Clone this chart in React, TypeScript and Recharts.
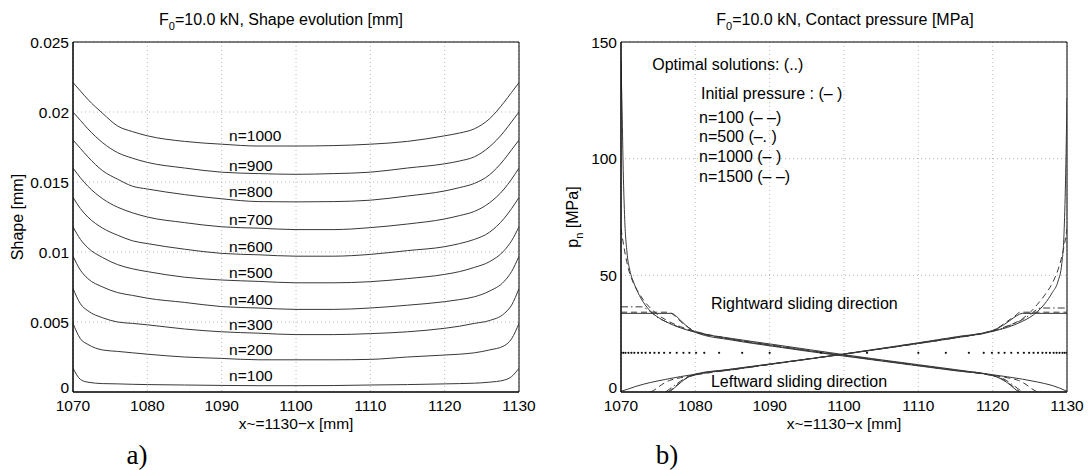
import React from "react";
import { CartesianGrid, Line, LineChart, ReferenceArea, XAxis, YAxis } from "recharts";

const FONT = "'Liberation Sans', Arial, Helvetica, sans-serif";
const SERIF = "'Liberation Serif', 'Times New Roman', serif";
const CURVE = "#383838";
const GRID = "#b8b8b8";

// axes
const xTicks = [1070, 1080, 1090, 1100, 1110, 1120, 1130];
const shapeTicks = [0, 0.005, 0.01, 0.015, 0.02, 0.025];
const pressureTicks = [0, 50, 100, 150];

// a) shape evolution, one curve per n
const shapeX = [1070, 1071, 1072, 1074, 1076, 1078, 1080, 1085, 1090, 1095, 1100, 1105, 1110, 1115, 1120, 1122, 1124, 1126, 1128, 1129, 1130];
const shape100 = [0.0017, 0.0009, 0.0007, 0.0006, 0.00058, 0.00055, 0.00053, 0.0005, 0.00047, 0.00045, 0.00045, 0.00046, 0.0005, 0.00053, 0.00058, 0.0006, 0.00063, 0.0007, 0.00085, 0.0011, 0.0017];
const shape200 = [0.0049, 0.0038, 0.0034, 0.003, 0.0029, 0.0028, 0.0027, 0.0025, 0.0024, 0.0023, 0.0023, 0.0023, 0.00233, 0.0025, 0.00264, 0.0027, 0.0028, 0.003, 0.0033, 0.0038, 0.0049];
const shape300 = [0.0074, 0.0063, 0.0058, 0.0053, 0.005, 0.0049, 0.0048, 0.0045, 0.0043, 0.0042, 0.0041, 0.0041, 0.00417, 0.0043, 0.00455, 0.0047, 0.0049, 0.0051, 0.0056, 0.0062, 0.0074];
const shape400 = [0.0097, 0.0087, 0.0081, 0.0075, 0.0071, 0.0069, 0.0067, 0.0064, 0.0061, 0.006, 0.0059, 0.0059, 0.006, 0.0062, 0.00645, 0.0066, 0.0068, 0.0072, 0.0079, 0.0086, 0.0097];
const shape500 = [0.0118, 0.0109, 0.0103, 0.0096, 0.0091, 0.0088, 0.0086, 0.0082, 0.008, 0.0079, 0.0078, 0.0078, 0.00788, 0.0081, 0.0084, 0.0086, 0.0089, 0.0093, 0.0101, 0.0108, 0.0118];
const shape600 = [0.0139, 0.0131, 0.0125, 0.0117, 0.0112, 0.0108, 0.0106, 0.0102, 0.0099, 0.0098, 0.0097, 0.0097, 0.00983, 0.0101, 0.01038, 0.0106, 0.0109, 0.0114, 0.0124, 0.0131, 0.0139];
const shape700 = [0.016, 0.0153, 0.0147, 0.0138, 0.0132, 0.0128, 0.0125, 0.0121, 0.0118, 0.0117, 0.0116, 0.0116, 0.01174, 0.012, 0.01236, 0.0126, 0.0129, 0.0135, 0.0145, 0.0152, 0.016];
const shape800 = [0.018, 0.0174, 0.0168, 0.0158, 0.0152, 0.0147, 0.0145, 0.0141, 0.0138, 0.0136, 0.01358, 0.0136, 0.0137, 0.014, 0.01436, 0.0146, 0.0149, 0.0155, 0.0166, 0.0173, 0.018];
const shape900 = [0.02, 0.0194, 0.0188, 0.0178, 0.0171, 0.0167, 0.0164, 0.016, 0.0157, 0.0156, 0.01555, 0.0156, 0.0157, 0.016, 0.0163, 0.0165, 0.0168, 0.0175, 0.0186, 0.0193, 0.02];
const shape1000 = [0.0221, 0.0215, 0.0209, 0.0199, 0.019, 0.0186, 0.0183, 0.0179, 0.0177, 0.01757, 0.01757, 0.0176, 0.0177, 0.0179, 0.0183, 0.0185, 0.0188, 0.0195, 0.0207, 0.0214, 0.0221];

const shapeNames = ["n=100", "n=200", "n=300", "n=400", "n=500", "n=600", "n=700", "n=800", "n=900", "n=1000"];
const shapeCurves = [shape100, shape200, shape300, shape400, shape500, shape600, shape700, shape800, shape900, shape1000];
const shapeLabelLevels = [0.0012, 0.003, 0.0048, 0.0066, 0.0085, 0.0104, 0.0123, 0.0143, 0.0162, 0.0183];

const shapeRows = shapeX.map((x, i) => {
  const row: Record<string, number> = { x };
  shapeCurves.forEach((c, k) => (row["s" + k] = c[i]));
  return row;
});

// b) contact pressure, rightward (r*) and leftward (l*) sliding
const rInitX = [1070, 1070.15, 1070.3, 1070.5, 1070.8, 1071.2, 1071.7, 1072.3, 1073, 1074, 1075, 1076, 1078, 1080, 1085, 1090, 1095, 1100, 1105, 1110, 1115, 1120, 1122, 1124, 1126, 1128, 1129, 1130];
const rInitP = [142, 120, 95, 74, 60, 52, 47, 42.5, 38.5, 34.5, 32, 30.2, 27.5, 25.6, 22.9, 20.6, 18.3, 16, 13.8, 11.7, 9.6, 7.4, 6.5, 5.5, 4.3, 2.8, 1.7, 0.3];
const lInitX = [1070, 1071, 1072, 1074, 1076, 1078, 1080, 1085, 1090, 1095, 1100, 1105, 1110, 1115, 1120, 1122, 1124, 1125, 1126, 1127, 1128, 1128.8, 1129.3, 1129.6, 1129.8, 1130];
const lInitP = [0.3, 1.3, 2.4, 4.1, 5.4, 6.6, 7.6, 9.9, 12, 14.1, 16.2, 18.5, 20.8, 23.2, 26, 27.7, 30.3, 32, 34.4, 37.8, 42.5, 47.5, 55, 68, 90, 126];

const r100X = [1070, 1070.4, 1070.9, 1071.5, 1072.2, 1073, 1074, 1075, 1076, 1078, 1080, 1085, 1090, 1095, 1100, 1105, 1110, 1115, 1120, 1122, 1123.5, 1124.5, 1125.3, 1126];
const r100P = [70, 62, 54, 48, 43.5, 39.5, 35.8, 33, 31, 28, 26, 22.6, 20.1, 17.8, 15.6, 13.5, 11.4, 9.3, 7.1, 6.1, 4.9, 3.2, 1.3, 0];
const l100X = [1074, 1074.7, 1075.5, 1076.5, 1078, 1080, 1085, 1090, 1095, 1100, 1105, 1110, 1115, 1120, 1122, 1124, 1125, 1126, 1127, 1128, 1128.8, 1129.3, 1129.7, 1130];
const l100P = [0, 1.3, 3.2, 4.9, 6.1, 7.3, 9.6, 11.9, 14.1, 16.3, 18.5, 20.8, 23.3, 26.3, 28.3, 31.4, 34, 37.5, 41.5, 46.5, 52.5, 58, 64, 70];

const r500X = [1070, 1072.8, 1073.5, 1074.3, 1075, 1076, 1078, 1080, 1085, 1090, 1095, 1100, 1105, 1110, 1115, 1120, 1121.5, 1122.5, 1123.5, 1124];
const r500P = [36.5, 36.5, 35.5, 33.5, 31.8, 30.2, 27.6, 25.8, 22.6, 20.2, 17.9, 15.7, 13.5, 11.4, 9.3, 7.2, 5.6, 3.5, 1.2, 0];
const l500X = [1076, 1076.5, 1077.5, 1078.5, 1080, 1085, 1090, 1095, 1100, 1105, 1110, 1115, 1120, 1122, 1124, 1125, 1125.7, 1126.5, 1130];
const l500P = [0, 1.2, 3.5, 5.6, 7.3, 9.5, 11.8, 14.1, 16.3, 18.5, 20.8, 23.2, 26, 28.2, 31, 33, 34.8, 36, 36];

const r1000X = [1070, 1076.8, 1077.5, 1078.3, 1079.2, 1080, 1085, 1090, 1095, 1100, 1105, 1110, 1115, 1120, 1121, 1122, 1122.8, 1123.5];
const r1000P = [33.7, 33.7, 32.3, 29.8, 27.3, 25.6, 22.2, 19.8, 17.5, 15.4, 13.3, 11.2, 9.1, 7, 5.8, 3.9, 1.8, 0];
const l1000X = [1076.5, 1077.2, 1078, 1079, 1080, 1085, 1090, 1095, 1100, 1105, 1110, 1115, 1120, 1121.3, 1122.3, 1123.2, 1124, 1130];
const l1000P = [0, 1.8, 4, 6.4, 7.7, 9.8, 11.9, 14, 16.3, 18.7, 21.1, 23.6, 26.4, 28.4, 30.6, 32.6, 33.7, 33.7];

const r1500X = [1070, 1076.4, 1077.2, 1078.2, 1079.2, 1080, 1085, 1090, 1095, 1100, 1105, 1110, 1115, 1120, 1121, 1122, 1122.9, 1123.7];
const r1500P = [34.2, 34.2, 32.7, 29.7, 27.4, 26, 22.5, 20.1, 17.8, 15.6, 13.5, 11.4, 9.3, 7.1, 6, 4.1, 1.9, 0];
const l1500X = [1076.3, 1077.1, 1078, 1079, 1080, 1085, 1090, 1095, 1100, 1105, 1110, 1115, 1120, 1121.1, 1122.2, 1123, 1123.7, 1130];
const l1500P = [0, 1.9, 4.1, 6.3, 7.5, 9.6, 11.8, 14, 16.2, 18.6, 21, 23.5, 26.2, 28.3, 30.8, 32.6, 34.2, 34.2];

// optimal solution nodes (dotted)
const optimalX = [1070, 1070.3, 1070.6, 1071, 1071.4, 1071.8, 1072.3, 1072.8, 1073.3, 1073.9, 1074.5, 1075.1, 1075.8, 1076.6, 1077.5, 1078.4, 1079.2, 1080.1, 1081.2, 1083.2, 1086.3, 1090, 1096.9, 1103.1, 1110, 1113.7, 1116.8, 1118.8, 1119.9, 1120.8, 1121.6, 1122.5, 1123.4, 1124.2, 1124.9, 1125.5, 1126.1, 1126.7, 1127.2, 1127.7, 1128.2, 1128.6, 1129, 1129.4, 1129.7, 1130];
const optimalP = 16.8;

const legendLines = ["Initial pressure : (– )", "n=100 (– –)", "n=500 (–. )", "n=1000 (– )", "n=1500 (– –)"];

const pts = (xs: number[], ps: number[]) => xs.map((x, i) => ({ x, p: ps[i] }));

const DASH = "6 4";
const DASHDOT = "7 3 1.5 3";
const pressureSeries = [
  { id: "rInit", data: pts(rInitX, rInitP), dash: undefined },
  { id: "lInit", data: pts(lInitX, lInitP), dash: undefined },
  { id: "r100", data: pts(r100X, r100P), dash: DASH },
  { id: "l100", data: pts(l100X, l100P), dash: DASH },
  { id: "r500", data: pts(r500X, r500P), dash: DASHDOT },
  { id: "l500", data: pts(l500X, l500P), dash: DASHDOT },
  { id: "r1000", data: pts(r1000X, r1000P), dash: undefined },
  { id: "l1000", data: pts(l1000X, l1000P), dash: undefined },
  { id: "r1500", data: pts(r1500X, r1500P), dash: DASH },
  { id: "l1500", data: pts(l1500X, l1500P), dash: DASH },
];
const optimalData = optimalX.map((x) => ({ x, p: optimalP }));

// plot boxes in page pixels (used for the text overlay only)
const TOP = 42;
const BOTTOM = 392;
const A_LEFT = 73;
const A_RIGHT = 519;
const B_LEFT = 621;
const B_RIGHT = 1067;

const yA = (v: number) => BOTTOM - (v / 0.025) * (BOTTOM - TOP);
const xA = (v: number) => A_LEFT + ((v - 1070) / 60) * (A_RIGHT - A_LEFT);
const xB = (v: number) => B_LEFT + ((v - 1070) / 60) * (B_RIGHT - B_LEFT);
const yB = (v: number) => BOTTOM - (v / 150) * (BOTTOM - TOP);

const tickStyle = { fill: "#000", fontSize: 15.5, fontFamily: FONT };

// y tick: the "0" sits a little above the axis, as in the original
function YTick(props: any) {
  const { x, y, payload } = props;
  const lift = payload.value === 0 ? -5 : 0;
  return (
    <text x={x} y={y + lift} dy="0.355em" textAnchor="end" {...tickStyle}>
      {String(payload.value)}
    </text>
  );
}

function Frame({ yMax }: { yMax: number }) {
  return (
    <ReferenceArea x1={1070} x2={1130} y1={0} y2={yMax} fill="none" stroke="#000" strokeWidth={1} ifOverflow="visible" />
  );
}

export default function App() {
  return (
    <div style={{ position: "absolute", left: 0, top: 0, width: 1089, height: 470, background: "#fff", fontFamily: FONT }}>
      <div style={{ position: "absolute", left: 0, top: 0 }}>
        <LineChart width={540} height={470} data={shapeRows} margin={{ top: TOP, right: 540 - A_RIGHT, bottom: 470 - BOTTOM - 20, left: A_LEFT - 60 }}>
          <CartesianGrid stroke={GRID} strokeDasharray="1 3" />
          <XAxis dataKey="x" type="number" domain={[1070, 1130]} ticks={xTicks} height={20} tickLine={false} tickSize={6} tickMargin={2} axisLine={{ stroke: "#000" }} tick={tickStyle} allowDataOverflow />
          <YAxis type="number" domain={[0, 0.025]} ticks={shapeTicks} width={60} tickLine={false} tickSize={4} tickMargin={0} axisLine={{ stroke: "#000" }} tick={<YTick />} allowDataOverflow />
          {shapeCurves.map((_, k) => (
            <Line key={k} dataKey={"s" + k} type="monotone" stroke={CURVE} strokeWidth={1} dot={false} activeDot={false} isAnimationActive={false} />
          ))}
          <Frame yMax={0.025} />
        </LineChart>
      </div>

      <div style={{ position: "absolute", left: 540, top: 0 }}>
        <LineChart width={549} height={470} margin={{ top: TOP, right: 540 + 549 - B_RIGHT, bottom: 470 - BOTTOM - 20, left: B_LEFT - 540 - 60 }}>
          <CartesianGrid stroke={GRID} strokeDasharray="1 3" />
          <XAxis dataKey="x" type="number" domain={[1070, 1130]} ticks={xTicks} height={20} tickLine={false} tickSize={6} tickMargin={2} axisLine={{ stroke: "#000" }} tick={tickStyle} allowDataOverflow />
          <YAxis dataKey="p" type="number" domain={[0, 150]} ticks={pressureTicks} width={60} tickLine={false} tickSize={4} tickMargin={0} axisLine={{ stroke: "#000" }} tick={<YTick />} allowDataOverflow />
          {pressureSeries.map((s) => (
            <Line key={s.id} data={s.data} dataKey="p" type="monotone" stroke={CURVE} strokeWidth={1} strokeDasharray={s.dash} dot={false} activeDot={false} isAnimationActive={false} />
          ))}
          <Line data={optimalData} dataKey="p" stroke="none" dot={{ r: 1.1, fill: "#111", stroke: "none" }} activeDot={false} isAnimationActive={false} />
          <Frame yMax={150} />
        </LineChart>
      </div>

      <svg width={1089} height={470} style={{ position: "absolute", left: 0, top: 0, pointerEvents: "none" }} fontFamily={FONT}>
        {/* titles */}
        <text x={281} y={25} textAnchor="middle" fontSize={16}>
          F<tspan fontSize={11} dy={5}>0</tspan>
          <tspan dy={-5}>=10.0 kN, Shape evolution [mm]</tspan>
        </text>
        <text x={845} y={25} textAnchor="middle" fontSize={16}>
          F<tspan fontSize={11} dy={5}>0</tspan>
          <tspan dy={-5}>=10.0 kN, Contact pressure [MPa]</tspan>
        </text>

        {/* axis labels */}
        <text transform="translate(23,217) rotate(-90)" textAnchor="middle" fontSize={16}>Shape [mm]</text>
        <text transform="translate(578,217) rotate(-90)" textAnchor="middle" fontSize={16}>
          p<tspan fontSize={11} dy={5}>n</tspan>
          <tspan dy={-5}> [MPa]</tspan>
        </text>
        <text x={(A_LEFT + A_RIGHT) / 2} y={429} textAnchor="middle" fontSize={15.5}>x~=1130−x [mm]</text>
        <text x={(B_LEFT + B_RIGHT) / 2} y={429} textAnchor="middle" fontSize={15.5}>x~=1130−x [mm]</text>

        {/* curve labels in a) */}
        {shapeNames.map((name, k) => (
          <text key={name} x={xA(1091)} y={yA(shapeLabelLevels[k])} dy="0.35em" fontSize={15.5}>{name}</text>
        ))}

        {/* annotations in b) */}
        <text x={xB(1074.2)} y={64.5} dy="0.35em" fontSize={16}>Optimal solutions:  (..)</text>
        {legendLines.map((t, k) => (
          <text key={t} x={k === 0 ? 701 : 699} y={[93, 117, 136.5, 156, 176][k]} dy="0.35em" fontSize={16}>{t}</text>
        ))}
        <text x={xB(1082.1)} y={yB(38)} dy="0.35em" fontSize={16}>Rightward sliding direction</text>
        <text x={xB(1082.1)} y={yB(4.4)} dy="0.35em" fontSize={16}>Leftward sliding direction</text>

        {/* panel letters */}
        <text x={137} y={464} textAnchor="middle" fontFamily={SERIF} fontSize={27}>a)</text>
        <text x={667} y={464} textAnchor="middle" fontFamily={SERIF} fontSize={27}>b)</text>
      </svg>
    </div>
  );
}
